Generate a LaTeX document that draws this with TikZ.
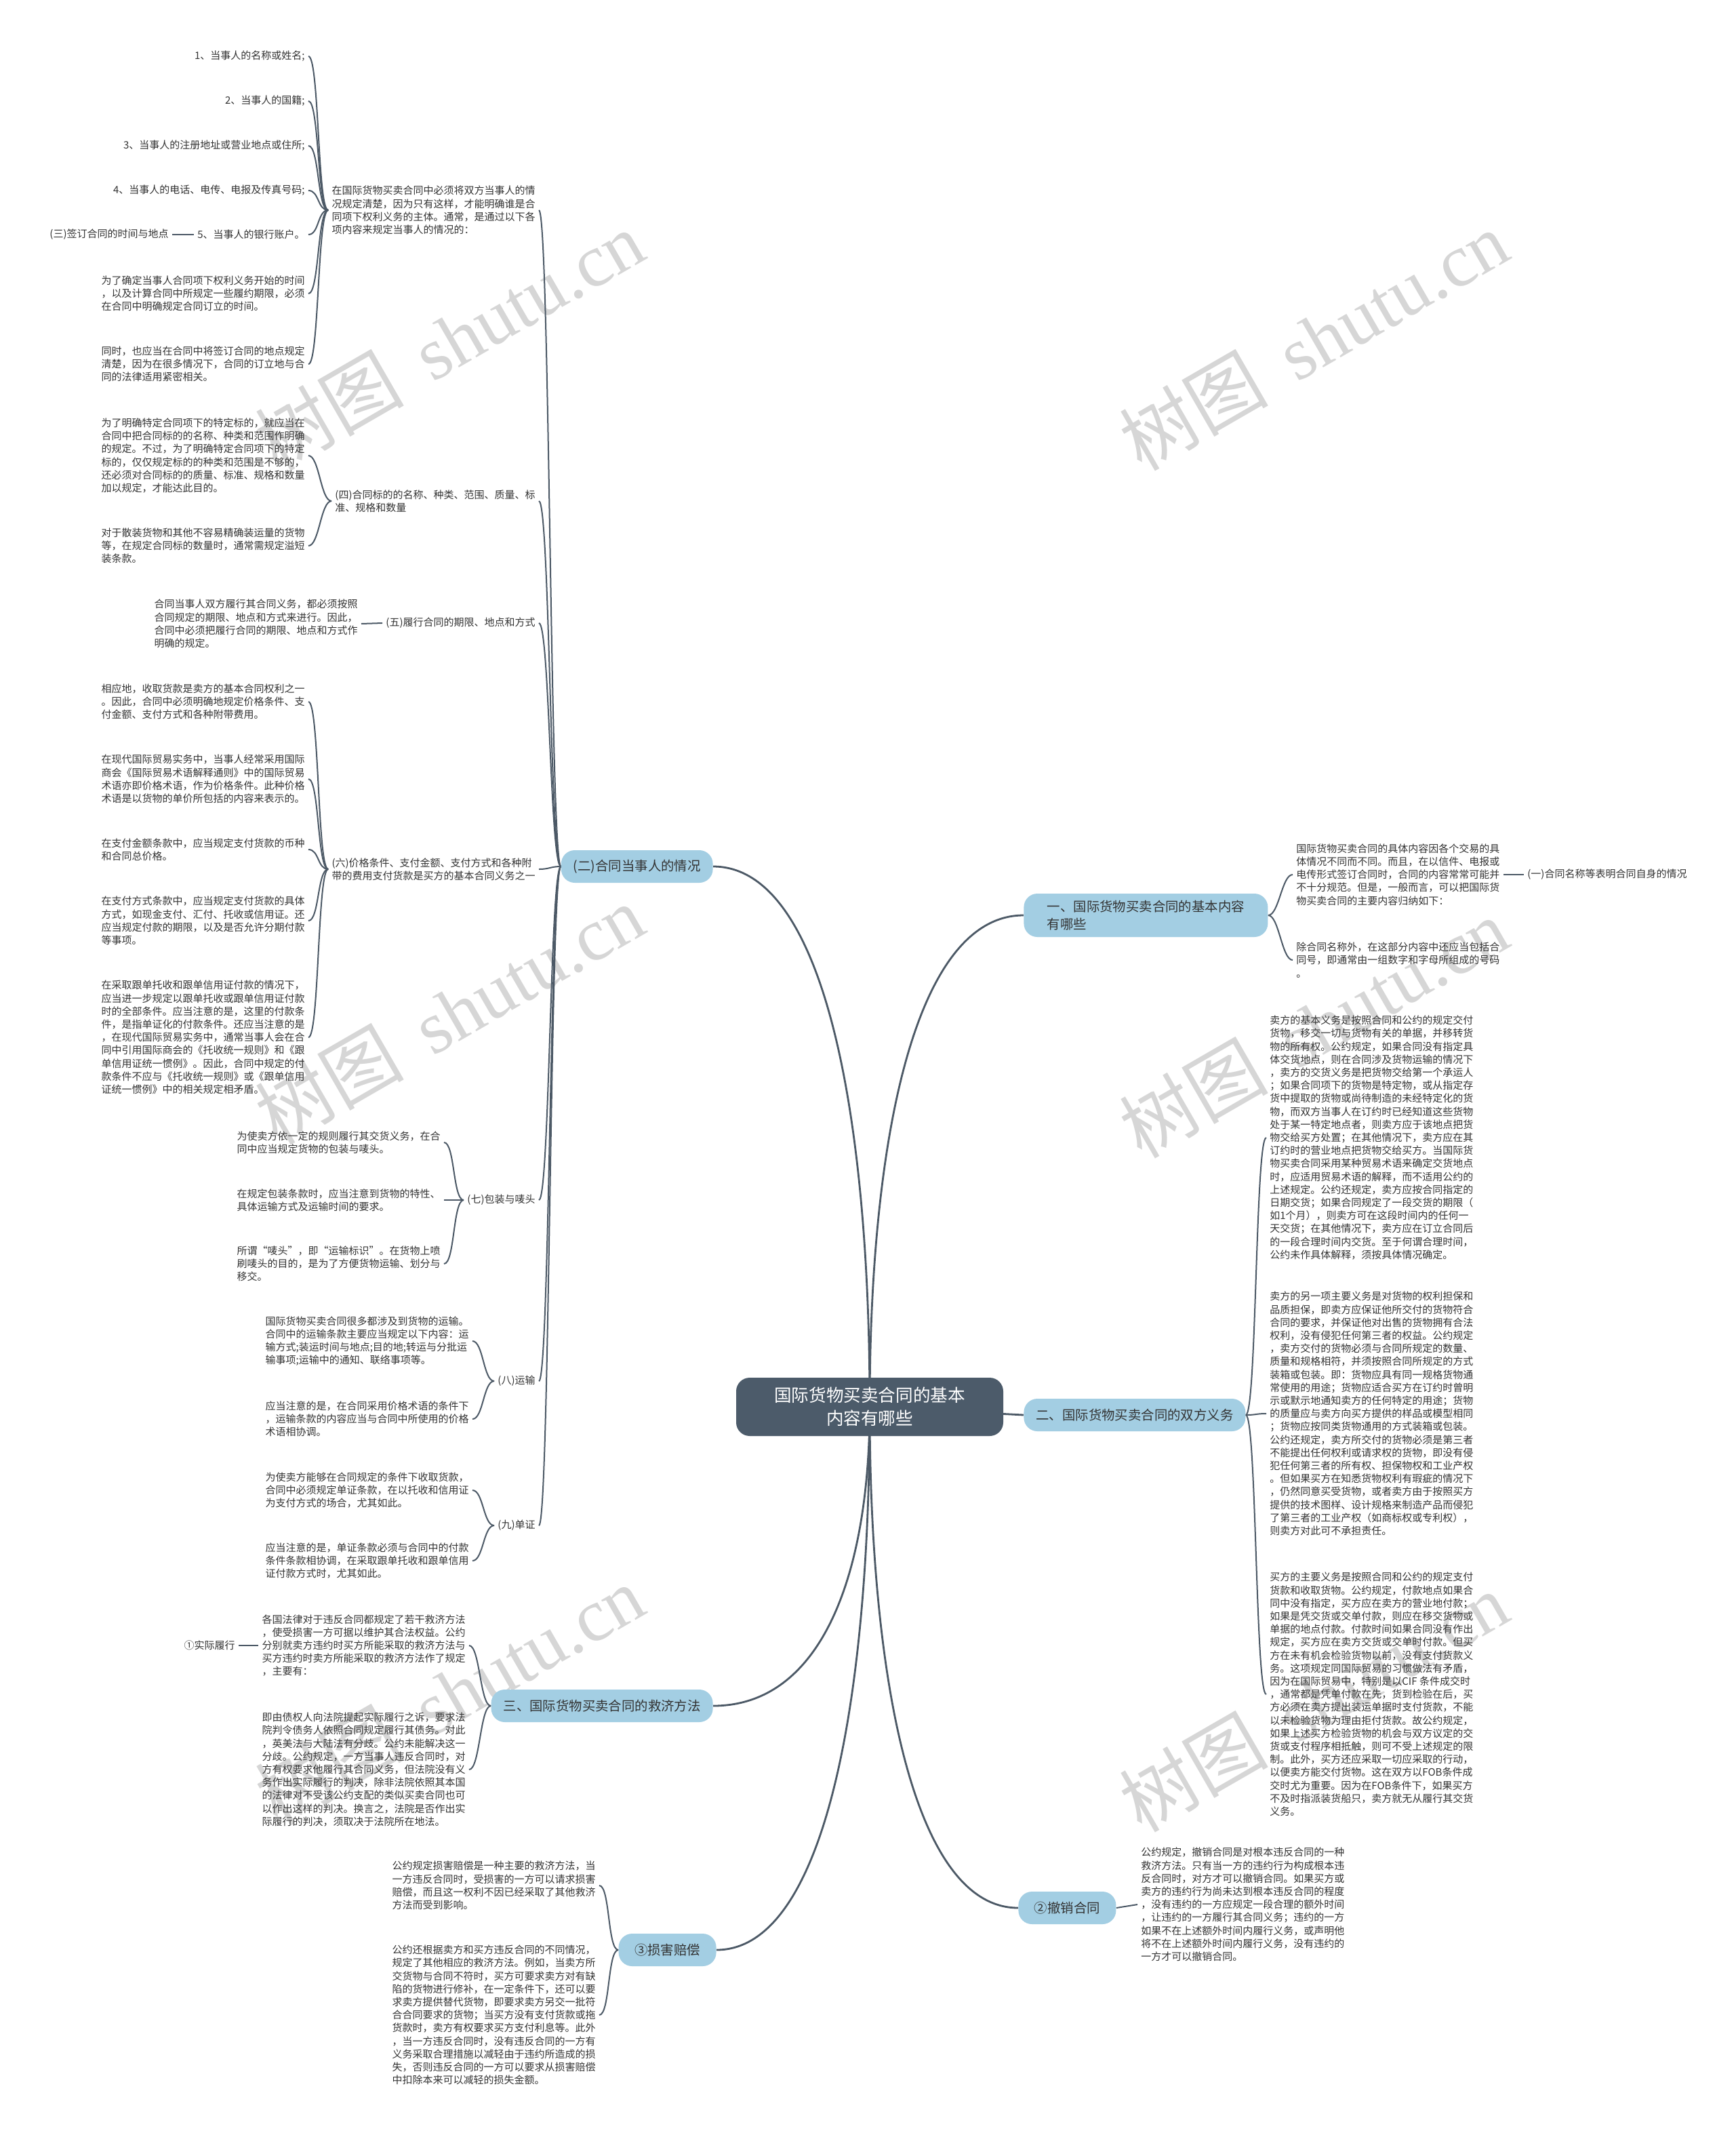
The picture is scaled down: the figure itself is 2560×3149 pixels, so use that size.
\documentclass[tikz,border=0pt]{standalone}
\usepackage{fontspec}
\setmainfont{Noto Sans CJK SC}
\newfontfamily\wmlatin{Liberation Serif}
\usetikzlibrary{backgrounds}
\definecolor{lblue}{HTML}{A3CEE3}
\definecolor{rootc}{HTML}{4C5B6A}
\definecolor{linec}{HTML}{4C5966}
\definecolor{textc}{HTML}{333333}
\definecolor{wmc}{HTML}{D6D6D6}
\begin{document}
\begin{tikzpicture}[x=0.5pt,y=-0.5pt,
  leaf/.style={font=\fontsize{7.5pt}{9.6pt}\selectfont, text=textc, align=left, inner xsep=2.5pt, inner ysep=1pt},
  lone/.style={fill=lblue, rounded corners=10pt, text=textc, font=\fontsize{9.7pt}{13pt}\selectfont, inner xsep=9pt, inner ysep=5pt, minimum height=24pt, align=left},
  rootn/.style={fill=rootc, rounded corners=10pt, text=white, font=\fontsize{12.8pt}{17pt}\selectfont, align=center, minimum width=197pt, minimum height=43pt},
  link/.style={draw=linec, line width=1pt},
  mainlink/.style={draw=linec, line width=1.4pt},
  tol/.style={out=180, in=0, distance=8pt},
  tor/.style={out=0, in=180, distance=8pt},
  wm/.style={text=wmc, font=\fontsize{55pt}{60pt}\selectfont, rotate=30, inner sep=0pt}]
\useasboundingbox (0,0) rectangle (2560,3149);

% root and main branches
\node[rootn] (root) at (1283,2075) {国际货物买卖合同的基本\\内容有哪些};
\node[lone, anchor=west, minimum width=180pt] (a1) at (1510,1350) {一、国际货物买卖合同的基本内容\\有哪些};
\node[lone, anchor=west] (a2) at (1510,2087) {二、国际货物买卖合同的双方义务};
\node[lone, anchor=east] (a3) at (1052,2516) {三、国际货物买卖合同的救济方法};
\node[lone, anchor=east] (b2) at (1052,1278) {(二)合同当事人的情况};
\node[lone, anchor=east, minimum width=72pt] (b3) at (1057,2876) {③损害赔偿};
\node[lone, anchor=west, minimum width=72pt] (b4) at (1502,2814) {②撤销合同};

% (二) branch
\node[leaf, anchor=east] (p0) at (795,310) {在国际货物买卖合同中必须将双方当事人的情\\况规定清楚，因为只有这样，才能明确谁是合\\同项下权利义务的主体。通常，是通过以下各\\项内容来规定当事人的情况的：};
\node[leaf, anchor=east] (p4) at (795,739) {(四)合同标的的名称、种类、范围、质量、标\\准、规格和数量};
\node[leaf, anchor=east] (p5) at (795,919) {(五)履行合同的期限、地点和方式};
\node[leaf, anchor=east] (p6) at (795,1282) {(六)价格条件、支付金额、支付方式和各种附\\带的费用支付货款是买方的基本合同义务之一};
\node[leaf, anchor=east] (p7) at (795,1770) {(七)包装与唛头};
\node[leaf, anchor=east] (p8) at (795,2037) {(八)运输};
\node[leaf, anchor=east] (p9) at (795,2250) {(九)单证};

\node[leaf, anchor=east] (q1) at (455,83) {1、当事人的名称或姓名;};
\node[leaf, anchor=east] (q2) at (455,149) {2、当事人的国籍;};
\node[leaf, anchor=east] (q3) at (455,215) {3、当事人的注册地址或营业地点或住所;};
\node[leaf, anchor=east] (q4) at (455,281) {4、当事人的电话、电传、电报及传真号码;};
\node[leaf, anchor=east] (q5) at (455,346) {5、当事人的银行账户。};
\node[leaf, anchor=east] (q5a) at (254,346) {(三)签订合同的时间与地点};
\node[leaf, anchor=east] (q6) at (455,433) {为了确定当事人合同项下权利义务开始的时间\\，以及计算合同中所规定一些履约期限，必须\\在合同中明确规定合同订立的时间。};
\node[leaf, anchor=east] (q7) at (455,537) {同时，也应当在合同中将签订合同的地点规定\\清楚，因为在很多情况下，合同的订立地与合\\同的法律适用紧密相关。};

\node[leaf, anchor=east] (r1) at (455,672) {为了明确特定合同项下的特定标的，就应当在\\合同中把合同标的的名称、种类和范围作明确\\的规定。不过，为了明确特定合同项下的特定\\标的，仅仅规定标的的种类和范围是不够的，\\还必须对合同标的的质量、标准、规格和数量\\加以规定，才能达此目的。};
\node[leaf, anchor=east] (r2) at (455,805) {对于散装货物和其他不容易精确装运量的货物\\等，在规定合同标的数量时，通常需规定溢短\\装条款。};

\node[leaf, anchor=east] (s1) at (533,920) {合同当事人双方履行其合同义务，都必须按照\\合同规定的期限、地点和方式来进行。因此，\\合同中必须把履行合同的期限、地点和方式作\\明确的规定。};

\node[leaf, anchor=east] (t1) at (455,1035) {相应地，收取货款是卖方的基本合同权利之一\\。因此，合同中必须明确地规定价格条件、支\\付金额、支付方式和各种附带费用。};
\node[leaf, anchor=east] (t2) at (455,1149) {在现代国际贸易实务中，当事人经常采用国际\\商会《国际贸易术语解释通则》中的国际贸易\\术语亦即价格术语，作为价格条件。此种价格\\术语是以货物的单价所包括的内容来表示的。};
\node[leaf, anchor=east] (t3) at (455,1253) {在支付金额条款中，应当规定支付货款的币种\\和合同总价格。};
\node[leaf, anchor=east] (t4) at (455,1358) {在支付方式条款中，应当规定支付货款的具体\\方式，如现金支付、汇付、托收或信用证。还\\应当规定付款的期限，以及是否允许分期付款\\等事项。};
\node[leaf, anchor=east] (t5) at (455,1530) {在采取跟单托收和跟单信用证付款的情况下，\\应当进一步规定以跟单托收或跟单信用证付款\\时的全部条件。应当注意的是，这里的付款条\\件，是指单证化的付款条件。还应当注意的是\\，在现代国际贸易实务中，通常当事人会在合\\同中引用国际商会的《托收统一规则》和《跟\\单信用证统一惯例》。因此，合同中规定的付\\款条件不应与《托收统一规则》或《跟单信用\\证统一惯例》中的相关规定相矛盾。};

\node[leaf, anchor=east] (u1) at (655,1685) {为使卖方依一定的规则履行其交货义务，在合\\同中应当规定货物的包装与唛头。};
\node[leaf, anchor=east] (u2) at (655,1770) {在规定包装条款时，应当注意到货物的特性、\\具体运输方式及运输时间的要求。};
\node[leaf, anchor=east] (u3) at (655,1864) {所谓“唛头”，即“运输标识”。在货物上喷\\刷唛头的目的，是为了方便货物运输、划分与\\移交。};

\node[leaf, anchor=east] (v1) at (697,1978) {国际货物买卖合同很多都涉及到货物的运输。\\合同中的运输条款主要应当规定以下内容：运\\输方式;装运时间与地点;目的地;转运与分批运\\输事项;运输中的通知、联络事项等。};
\node[leaf, anchor=east] (v2) at (697,2093) {应当注意的是，在合同采用价格术语的条件下\\，运输条款的内容应当与合同中所使用的价格\\术语相协调。};

\node[leaf, anchor=east] (w1) at (697,2198) {为使卖方能够在合同规定的条件下收取货款，\\合同中必须规定单证条款，在以托收和信用证\\为支付方式的场合，尤其如此。};
\node[leaf, anchor=east] (w2) at (697,2302) {应当注意的是，单证条款必须与合同中的付款\\条件条款相协调，在采取跟单托收和跟单信用\\证付款方式时，尤其如此。};

% 三 branch
\node[leaf, anchor=east] (x1) at (692,2427) {各国法律对于违反合同都规定了若干救济方法\\，使受损害一方可据以维护其合法权益。公约\\分别就卖方违约时买方所能采取的救济方法与\\买方违约时卖方所能采取的救济方法作了规定\\，主要有：};
\node[leaf, anchor=east] (x1a) at (352,2427) {①实际履行};
\node[leaf, anchor=east] (x2) at (692,2610) {即由债权人向法院提起实际履行之诉，要求法\\院判令债务人依照合同规定履行其债务。对此\\，英美法与大陆法有分歧。公约未能解决这一\\分歧。公约规定，一方当事人违反合同时，对\\方有权要求他履行其合同义务，但法院没有义\\务作出实际履行的判决，除非法院依照其本国\\的法律对不受该公约支配的类似买卖合同也可\\以作出这样的判决。换言之，法院是否作出实\\际履行的判决，须取决于法院所在地法。};

% ③ branch
\node[leaf, anchor=east] (y1) at (884,2781) {公约规定损害赔偿是一种主要的救济方法，当\\一方违反合同时，受损害的一方可以请求损害\\赔偿，而且这一权利不因已经采取了其他救济\\方法而受到影响。};
\node[leaf, anchor=east] (y2) at (884,2972) {公约还根据卖方和买方违反合同的不同情况，\\规定了其他相应的救济方法。例如，当卖方所\\交货物与合同不符时，买方可要求卖方对有缺\\陷的货物进行修补，在一定条件下，还可以要\\求卖方提供替代货物，即要求卖方另交一批符\\合合同要求的货物；当买方没有支付货款或拖\\货款时，卖方有权要求买方支付利息等。此外\\，当一方违反合同时，没有违反合同的一方有\\义务采取合理措施以减轻由于违约所造成的损\\失，否则违反合同的一方可以要求从损害赔偿\\中扣除本来可以减轻的损失金额。};

% 一 branch
\node[leaf, anchor=west] (z1) at (1907,1290) {国际货物买卖合同的具体内容因各个交易的具\\体情况不同而不同。而且，在以信件、电报或\\电传形式签订合同时，合同的内容常常可能并\\不十分规范。但是，一般而言，可以把国际货\\物买卖合同的主要内容归纳如下：};
\node[leaf, anchor=west] (z1a) at (2248,1290) {(一)合同名称等表明合同自身的情况};
\node[leaf, anchor=west] (z2) at (1907,1416) {除合同名称外，在这部分内容中还应当包括合\\同号，即通常由一组数字和字母所组成的号码\\。};

% 二 branch
\node[leaf, anchor=west] (m1) at (1868,1678) {卖方的基本义务是按照合同和公约的规定交付\\货物，移交一切与货物有关的单据，并移转货\\物的所有权。公约规定，如果合同没有指定具\\体交货地点，则在合同涉及货物运输的情况下\\，卖方的交货义务是把货物交给第一个承运人\\；如果合同项下的货物是特定物，或从指定存\\货中提取的货物或尚待制造的未经特定化的货\\物，而双方当事人在订约时已经知道这些货物\\处于某一特定地点者，则卖方应于该地点把货\\物交给买方处置；在其他情况下，卖方应在其\\订约时的营业地点把货物交给买方。当国际货\\物买卖合同采用某种贸易术语来确定交货地点\\时，应适用贸易术语的解释，而不适用公约的\\上述规定。公约还规定，卖方应按合同指定的\\日期交货；如果合同规定了一段交货的期限（\\如1个月），则卖方可在这段时间内的任何一\\天交货；在其他情况下，卖方应在订立合同后\\的一段合理时间内交货。至于何谓合理时间，\\公约未作具体解释，须按具体情况确定。};
\node[leaf, anchor=west] (m2) at (1868,2085) {卖方的另一项主要义务是对货物的权利担保和\\品质担保，即卖方应保证他所交付的货物符合\\合同的要求，并保证他对出售的货物拥有合法\\权利，没有侵犯任何第三者的权益。公约规定\\，卖方交付的货物必须与合同所规定的数量、\\质量和规格相符，并须按照合同所规定的方式\\装箱或包装。即：货物应具有同一规格货物通\\常使用的用途；货物应适合买方在订约时曾明\\示或默示地通知卖方的任何特定的用途；货物\\的质量应与卖方向买方提供的样品或模型相同\\；货物应按同类货物通用的方式装箱或包装。\\公约还规定，卖方所交付的货物必须是第三者\\不能提出任何权利或请求权的货物，即没有侵\\犯任何第三者的所有权、担保物权和工业产权\\。但如果买方在知悉货物权利有瑕疵的情况下\\，仍然同意买受货物，或者卖方由于按照买方\\提供的技术图样、设计规格来制造产品而侵犯\\了第三者的工业产权（如商标权或专利权），\\则卖方对此可不承担责任。};
\node[leaf, anchor=west] (m3) at (1868,2499) {买方的主要义务是按照合同和公约的规定支付\\货款和收取货物。公约规定，付款地点如果合\\同中没有指定，买方应在卖方的营业地付款；\\如果是凭交货或交单付款，则应在移交货物或\\单据的地点付款。付款时间如果合同没有作出\\规定，买方应在卖方交货或交单时付款。但买\\方在未有机会检验货物以前，没有支付货款义\\务。这项规定同国际贸易的习惯做法有矛盾，\\因为在国际贸易中，特别是以CIF 条件成交时\\，通常都是凭单付款在先，货到检验在后，买\\方必须在卖方提出装运单据时支付货款，不能\\以未检验货物为理由拒付货款。故公约规定，\\如果上述买方检验货物的机会与双方议定的交\\货或支付程序相抵触，则可不受上述规定的限\\制。此外，买方还应采取一切应采取的行动，\\以便卖方能交付货物。这在双方以FOB条件成\\交时尤为重要。因为在FOB条件下，如果买方\\不及时指派装货船只，卖方就无从履行其交货\\义务。};

% ② branch
\node[leaf, anchor=west] (k1) at (1678,2809) {公约规定，撤销合同是对根本违反合同的一种\\救济方法。只有当一方的违约行为构成根本违\\反合同时，对方才可以撤销合同。如果买方或\\卖方的违约行为尚未达到根本违反合同的程度\\，没有违约的一方应规定一段合理的额外时间\\，让违约的一方履行其合同义务；违约的一方\\如果不在上述额外时间内履行义务，或声明他\\将不在上述额外时间内履行义务，没有违约的\\一方才可以撤销合同。};

\begin{scope}[on background layer]
  \fill[white] (0,0) rectangle (2560,3149);
  \foreach \wx/\wy in {663/502, 1938/502, 663/1496, 1938/1516, 663/2500, 1938/2510}
    \node[wm] at (\wx,\wy) {树图\hspace{0.4em}{\wmlatin shutu.cn}};
  % root connectors
  \draw[mainlink] (b2.east) .. controls (1214,1278) and (1283,1637) .. (root.center);
  \draw[mainlink] (a1.west) .. controls (1351,1350) and (1283,1676) .. (root.center);
  \draw[mainlink] (root.center) -- (a2.west);
  \draw[mainlink] (a3.east) .. controls (1214,2516) and (1283,2318) .. (root.center);
  \draw[mainlink] (b3.east) .. controls (1215,2876) and (1283,2516) .. (root.center);
  \draw[mainlink] (b4.west) .. controls (1349,2814) and (1283,2481) .. (root.center);
  % sub connectors
  \foreach \c in {p0,p4,p5,p6,p7,p8,p9} \draw[link] (b2.west) to[tol] (\c.east);
  \foreach \c in {q1,q2,q3,q4,q5,q6,q7} \draw[link] (p0.west) to[tol] (\c.east);
  \draw[link] (q5.west) -- (q5a.east);
  \foreach \c in {r1,r2} \draw[link] (p4.west) to[tol] (\c.east);
  \draw[link] (p5.west) -- (s1.east);
  \foreach \c in {t1,t2,t3,t4,t5} \draw[link] (p6.west) to[tol] (\c.east);
  \foreach \c in {u1,u2,u3} \draw[link] (p7.west) to[tol] (\c.east);
  \foreach \c in {v1,v2} \draw[link] (p8.west) to[tol] (\c.east);
  \foreach \c in {w1,w2} \draw[link] (p9.west) to[tol] (\c.east);
  \foreach \c in {x1,x2} \draw[link] (a3.west) to[tol] (\c.east);
  \draw[link] (x1.west) -- (x1a.east);
  \foreach \c in {y1,y2} \draw[link] (b3.west) to[tol] (\c.east);
  \foreach \c in {z1,z2} \draw[link] (a1.east) to[tor] (\c.west);
  \draw[link] (z1.east) -- (z1a.west);
  \foreach \c in {m1,m2,m3} \draw[link] (a2.east) to[tor] (\c.west);
  \draw[link] (b4.east) -- (k1.west);
\end{scope}
\end{tikzpicture}
\end{document}
